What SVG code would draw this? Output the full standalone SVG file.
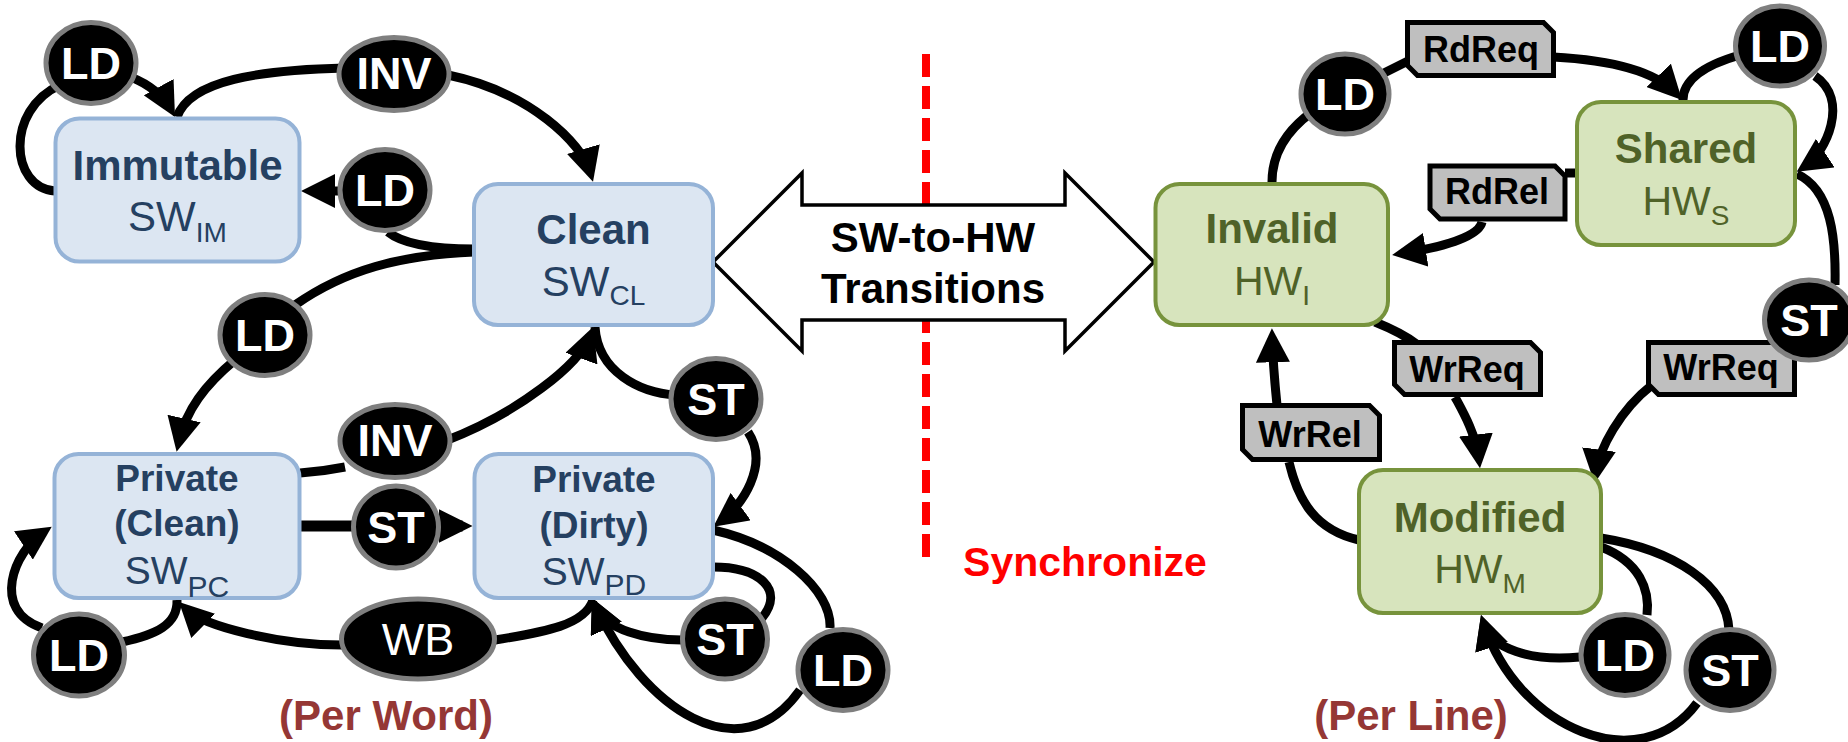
<svg xmlns="http://www.w3.org/2000/svg" width="1848" height="742" viewBox="0 0 1848 742">
  <defs>
    <style>
      text { font-family: "Liberation Sans", Arial, sans-serif; text-anchor: middle; }
      .sw { fill: #DCE6F2; stroke: #95B3D7; stroke-width: 4; }
      .hw { fill: #D7E4BD; stroke: #77933C; stroke-width: 4; }
      .swt { fill: #254061; }
      .hwt { fill: #4F6228; }
      .ttl { font-weight: bold; font-size: 42px; }
      .ttl2 { font-weight: bold; font-size: 37px; }
      .nm { font-size: 42px; }
      .sub { font-size: 28px; }
      .ev { fill: #000; stroke: #7F7F7F; stroke-width: 5; }
      .evt { fill: #fff; font-weight: bold; font-size: 45px; }
      .evr { fill: #fff; font-weight: normal; font-size: 45px; }
      .msg { fill: #BFBFBF; stroke: #000; stroke-width: 5; }
      .msgt { fill: #000; font-weight: bold; font-size: 36px; }
      .c { fill: none; stroke: #000; stroke-width: 9; }
      .thick { stroke-width: 11; }
      .a { marker-end: url(#ah); }
      .note { font-weight: bold; font-size: 42px; fill: #953735; }
    </style>
    <marker id="ah" markerUnits="userSpaceOnUse" markerWidth="34" markerHeight="34" viewBox="0 0 34 34" refX="24" refY="17" orient="auto">
      <path d="M0,0 L34,17 L0,34 Z" fill="#000"/>
    </marker>
  </defs>

  <!-- separator between software and hardware sides -->
  <line x1="926" y1="54" x2="926" y2="557" stroke="#FF0000" stroke-width="8" stroke-dasharray="23 9"/>
  <g id="sw-to-hw">
    <polygon points="713,262 802,173 802,205 1065,205 1065,173 1154,262 1065,351 1065,320 802,320 802,351" fill="#fff" stroke="#000" stroke-width="3.5" stroke-linejoin="miter"/>
    <text x="933" y="252" font-weight="bold" font-size="42">SW-to-HW</text>
    <text x="933" y="303" font-weight="bold" font-size="42">Transitions</text>
  </g>
  <text x="1085" y="576" font-weight="bold" font-size="41" fill="#FF0000">Synchronize</text>
  <text class="note" x="386" y="730">(Per Word)</text>
  <text class="note" x="1411" y="730">(Per Line)</text>

  <g id="connectors">
    <!-- software states -->
    <path class="c" d="M55 191 C10 188 5 110 60 85"/>
    <path class="c a" d="M125 75 C140 80 160.6 90.7 170.2 108.2"/>
    <path class="c" d="M177 117 C190 80 260 70 345 68"/>
    <path class="c a" d="M448 75 C530 92 581.7 143.3 590.2 172.1"/>
    <path class="c" d="M474 249 C440 249 405 246 388 232"/>
    <path class="c a" d="M380 191 L311 191"/>
    <path class="c" d="M474 252 C400 255 345 270 295 305"/>
    <path class="c a" d="M235 360 C205 385 186 410 178.8 441.9"/>
    <path class="c" d="M300 473 C315 472 330 470 345 467"/>
    <path class="c a" d="M445 441 C520 412 579.4 364.2 589.8 336.1"/>
    <path class="c" d="M595 327 C598 372 640 393 676 395"/>
    <path class="c a" d="M748 432 C770 465 741.5 506 721.4 520.8"/>
    <path class="c thick" d="M300 526 L360 526"/>
    <path class="c thick a" d="M400 526 L462.6 526"/>
    <path class="c" d="M593 600 C585 625 545 632 495 640"/>
    <path class="c a" d="M342 645 C280 645 203.9 626.5 186.1 609"/>
    <path class="c" d="M177 600 C178 625 155 635 122 642"/>
    <path class="c a" d="M42 628 C-10 610 14.2 551.6 43.4 532.2"/>
    <path class="c" d="M713 567 C760 567 785 590 762 618"/>
    <path class="c a" d="M682 640 C645 640 606.7 629.9 596.2 607.1"/>
    <path class="c" d="M713 530 C780 545 832 590 830 628"/>
    <path class="c a" d="M800 690 C740 775 642.4 707.2 596.2 607.1"/>
    <!-- hardware states -->
    <path class="c" d="M1272 182 C1272 150 1290 128 1312 112"/>
    <path class="c" d="M1370 80 L1410 60"/>
    <path class="c a" d="M1553 57 C1610 60 1654.4 71 1675.1 92.8"/>
    <path class="c" d="M1740 55 C1705 65 1683 80 1683 100"/>
    <path class="c a" d="M1815 76 C1850 100 1826 152.6 1805.1 166.2"/>
    <path class="c" d="M1797 174 C1832 190 1836 240 1835 285"/>
    <path class="c a" d="M1652 385 C1620 410 1599.2 448.6 1595.9 473.4"/>
    <path class="c" d="M1375 322 C1390 328 1405 335 1418 345"/>
    <path class="c a" d="M1455 397 C1462 410 1475.8 433.6 1478.8 458.4"/>
    <path class="c" d="M1359 540 C1315 530 1298 500 1289 462"/>
    <path class="c a" d="M1277 405 C1275 385 1273 365 1272.2 338.3"/>
    <path class="c" d="M1577 173 L1565 173"/>
    <path class="c a" d="M1482 222 C1478 240 1426.7 249.6 1402 253.5"/>
    <path class="c" d="M1601 547 C1640 562 1650 590 1647 615"/>
    <path class="c a" d="M1580 657 C1530 662 1491.9 648.3 1484.1 624.5"/>
    <path class="c" d="M1601 538 C1675 550 1727 585 1729 630"/>
    <path class="c a" d="M1697 703 C1640 780 1518.4 729 1484.1 624.5"/>
  </g>

  <!-- software state boxes -->
  <g id="immutable">
    <rect class="sw" x="55.5" y="118.5" width="244" height="143" rx="24"/>
    <text class="swt ttl" x="177.5" y="180">Immutable</text>
    <text class="swt nm" x="177.5" y="231">SW<tspan class="sub" dy="11">IM</tspan></text>
  </g>
  <g id="clean">
    <rect class="sw" x="474" y="184" width="239" height="141" rx="24"/>
    <text class="swt ttl" x="593.5" y="244">Clean</text>
    <text class="swt nm" x="593.5" y="296">SW<tspan class="sub" dy="9">CL</tspan></text>
  </g>
  <g id="private-clean">
    <rect class="sw" x="54.5" y="454" width="245" height="144" rx="24"/>
    <text class="swt ttl2" x="177" y="491">Private</text>
    <text class="swt ttl2" x="177" y="536">(Clean)</text>
    <text class="swt" font-size="39" x="177" y="584">SW<tspan font-size="30" dy="13">PC</tspan></text>
  </g>
  <g id="private-dirty">
    <rect class="sw" x="474.5" y="454" width="238.5" height="144" rx="24"/>
    <text class="swt ttl2" x="594" y="492">Private</text>
    <text class="swt ttl2" x="594" y="538">(Dirty)</text>
    <text class="swt" font-size="39" x="594" y="585">SW<tspan font-size="30" dy="10">PD</tspan></text>
  </g>

  <!-- hardware state boxes -->
  <g id="invalid">
    <rect class="hw" x="1155.5" y="184" width="232.5" height="141" rx="24"/>
    <text class="hwt ttl" x="1272" y="243">Invalid</text>
    <text class="hwt" font-size="41" x="1272" y="295">HW<tspan class="sub" dy="10">I</tspan></text>
  </g>
  <g id="shared">
    <rect class="hw" x="1577" y="102" width="218" height="143" rx="24"/>
    <text class="hwt ttl" x="1686" y="163">Shared</text>
    <text class="hwt" font-size="41" x="1686" y="215">HW<tspan class="sub" dy="10">S</tspan></text>
  </g>
  <g id="modified">
    <rect class="hw" x="1359" y="470" width="242" height="143" rx="24"/>
    <text class="hwt ttl" x="1480" y="532">Modified</text>
    <text class="hwt" font-size="41" x="1480" y="583">HW<tspan class="sub" dy="10">M</tspan></text>
  </g>

  <!-- coherence messages -->
  <g id="msg-rdreq">
    <path class="msg" d="M1407.5 22.5 H1543.5 L1553.5 32.5 V75.5 H1417.5 L1407.5 65.5 Z"/>
    <text class="msgt" x="1481" y="62">RdReq</text>
  </g>
  <g id="msg-rdrel">
    <path class="msg" d="M1430 166 H1555 L1565 176 V219 H1440 L1430 209 Z"/>
    <text class="msgt" x="1497" y="204">RdRel</text>
  </g>
  <g id="msg-wrreq-i">
    <path class="msg" d="M1394.5 342.5 H1530.5 L1540.5 352.5 V394.5 H1404.5 L1394.5 384.5 Z"/>
    <text class="msgt" x="1467" y="382">WrReq</text>
  </g>
  <g id="msg-wrreq-s">
    <path class="msg" d="M1648.5 342.5 H1784.5 L1794.5 352.5 V394.5 H1658.5 L1648.5 384.5 Z"/>
    <text class="msgt" x="1721" y="380">WrReq</text>
  </g>
  <g id="msg-wrrel">
    <path class="msg" d="M1242.5 405.5 H1369.5 L1379.5 415.5 V459.5 H1252.5 L1242.5 449.5 Z"/>
    <text class="msgt" x="1310" y="447">WrRel</text>
  </g>

  <!-- access events -->
  <g id="ev-ld-im-loop"><ellipse class="ev" cx="91" cy="63" rx="45" ry="40.5"/><text class="evt" x="91" y="79">LD</text></g>
  <g id="ev-inv-im"><ellipse class="ev" cx="394" cy="74" rx="55" ry="36.5"/><text class="evt" font-size="41" x="394" y="89">INV</text></g>
  <g id="ev-ld-cl-im"><ellipse class="ev" cx="385" cy="190" rx="45" ry="40.5"/><text class="evt" x="385" y="206">LD</text></g>
  <g id="ev-ld-cl-pc"><ellipse class="ev" cx="265" cy="335" rx="45" ry="40.5"/><text class="evt" x="265" y="351">LD</text></g>
  <g id="ev-inv-pc"><ellipse class="ev" cx="395" cy="441" rx="55" ry="36.5"/><text class="evt" font-size="41" x="395" y="456">INV</text></g>
  <g id="ev-st-cl"><ellipse class="ev" cx="716" cy="399" rx="45" ry="40.5"/><text class="evt" x="716" y="415">ST</text></g>
  <g id="ev-st-pc"><ellipse class="ev" cx="396" cy="527" rx="42.5" ry="41"/><text class="evt" x="396" y="543">ST</text></g>
  <g id="ev-wb"><ellipse class="ev" cx="418" cy="639" rx="76.5" ry="40"/><text class="evr" x="418" y="655">WB</text></g>
  <g id="ev-st-pd"><ellipse class="ev" cx="725" cy="639" rx="42.5" ry="40"/><text class="evt" x="725" y="655">ST</text></g>
  <g id="ev-ld-pd"><ellipse class="ev" cx="843" cy="670" rx="45" ry="40.5"/><text class="evt" x="843" y="686">LD</text></g>
  <g id="ev-ld-pc"><ellipse class="ev" cx="79" cy="655" rx="45.5" ry="41"/><text class="evt" x="79" y="671">LD</text></g>
  <g id="ev-ld-i"><ellipse class="ev" cx="1345" cy="94" rx="44" ry="40"/><text class="evt" x="1345" y="110">LD</text></g>
  <g id="ev-ld-s"><ellipse class="ev" cx="1780" cy="46" rx="44.5" ry="40"/><text class="evt" x="1780" y="62">LD</text></g>
  <g id="ev-st-s"><ellipse class="ev" cx="1809" cy="320" rx="44.5" ry="40"/><text class="evt" x="1809" y="336">ST</text></g>
  <g id="ev-ld-m"><ellipse class="ev" cx="1625" cy="655" rx="44" ry="40.5"/><text class="evt" x="1625" y="671">LD</text></g>
  <g id="ev-st-m"><ellipse class="ev" cx="1730" cy="670" rx="44" ry="40.5"/><text class="evt" x="1730" y="686">ST</text></g>
</svg>
